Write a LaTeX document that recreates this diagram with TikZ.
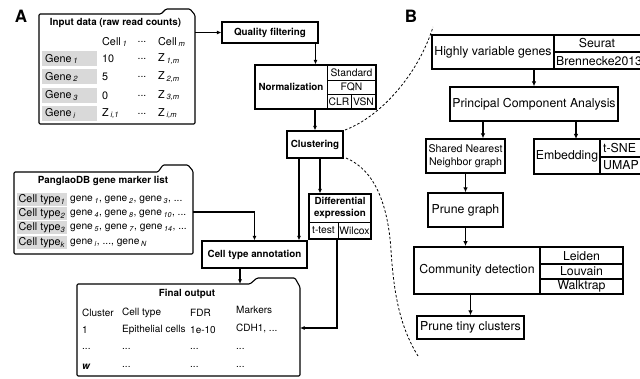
\documentclass[tikz,border=0pt]{standalone}
\usepackage{fontspec}
\setmainfont{TeX Gyre Heros}
\usetikzlibrary{arrows.meta}
\newcommand{\sbx}[1]{\,\textsubscript{\textit{#1}}}
\newcommand{\sbn}[1]{\textsubscript{\textit{#1}}}
\begin{document}
\begin{tikzpicture}[x=1pt,y=-1pt,
  box/.style={draw, line width=1.1pt, inner sep=0pt},
  boxA/.style={box, font=\fontsize{9.8}{11.5}\selectfont\bfseries, align=center},
  boxB/.style={draw, line width=1.3pt, inner sep=0pt, font=\fontsize{12.3}{14}\selectfont, align=center},
  fold/.style={draw, line width=1.1pt, rounded corners=1.2pt},
  thinline/.style={line width=0.8pt},
  arr/.style={-{Latex[length=4.5pt,width=4pt]}, line width=1.1pt},
  arrB/.style={-{Latex[length=5pt,width=4.5pt]}, line width=1.3pt},
  tA/.style={font=\fontsize{10.8}{12}\selectfont, inner sep=0pt, anchor=west},
  tG/.style={font=\fontsize{10.2}{12}\selectfont, inner sep=0pt, anchor=west},
  tAc/.style={font=\fontsize{10.3}{12}\selectfont, inner sep=0pt},
  tF/.style={font=\fontsize{10}{12}\selectfont, inner sep=0pt, anchor=west},
  tAb/.style={font=\fontsize{9.8}{11.5}\selectfont\bfseries, inner sep=0pt, align=center},
  tB/.style={font=\fontsize{12.3}{14}\selectfont, inner sep=0pt},
  grayc/.style={fill=black!15, draw=none},
  dashz/.style={line width=0.8pt, dash pattern=on 2.5pt off 2pt},
  lab/.style={font=\fontsize{17}{20}\selectfont\bfseries, inner sep=0pt}]
\useasboundingbox (0,0) rectangle (640,379);
\fill[white] (0,0) rectangle (640,379);
\clip (0,0) rectangle (640,379);

% ---------- panel labels
\node[lab] (labA) at (21,16) {A};
\node[lab] (labB) at (411,16) {B};

% ---------- Input data box
\draw[fold] (39,14) -- (161,14) -- (166,9) -- (190,9) -- (195,15) -- (195,124) -- (39,124) -- cycle;
\coordinate (inR) at (195,32.5);
\node[tAb] (inT) at (115.5,23) {Input data (raw read counts)};
\node[tA] (c1) at (102,42) {Cell\sbx{1}};
\node[tAc] (cd) at (142,42) {...};
\node[tA] (cm) at (158,42) {Cell\sbx{m}};
\foreach \y/\g/\v/\z [count=\i] in {59/1/10/1, 77/2/5/2, 95.5/3/0/3} {
  \fill[grayc] (42,\y-7.5) rectangle (97,\y+7.5);
  \node[tA] (g\i) at (45,\y) {Gene\sbx{\g}};
  \node[tA] (v\i) at (102,\y) {\v};
  \node[tAc] (d\i) at (142,\y) {...};
  \node[tA] (z\i) at (158,\y) {Z\sbx{\z,m}};
}
\fill[grayc] (42,113.5-7.5) rectangle (97,113.5+7.5);
\node[tA] (g4) at (45,113.5) {Gene\sbx{i}};
\node[tA] (v4) at (102,113.5) {Z\sbx{i,1}};
\node[tAc] (d4) at (142,113.5) {...};
\node[tA] (z4) at (158,113.5) {Z\sbx{i,m}};

% ---------- Quality filtering
\node[boxA, minimum width=96pt, minimum height=21pt] (qf) at (270,32.5) {Quality filtering};
\draw[arr] (inR) -- (qf.west);

% ---------- Normalization
\node[box, minimum width=121pt, minimum height=44pt] (norm) at (315.5,87) {};
\node[tAb] (normT) at (291,87) {Normalization};
\draw[thinline] (327,65) -- (327,109);
\draw[thinline] (327,80) -- (376,80);
\draw[thinline] (327,94) -- (376,94);
\draw[thinline] (351,94) -- (351,109);
\node[tAc] (std) at (351.5,73) {Standard};
\node[tAc] (fqn) at (351.5,87) {FQN};
\node[tAc] (clr) at (339,101.5) {CLR};
\node[tAc] (vsn) at (363.5,101.5) {VSN};
\draw[arr] (qf.south -| norm.north) -- (norm.north);

% ---------- Clustering
\node[boxA, minimum width=56pt, minimum height=27pt] (clust) at (315,144.5) {Clustering};
\draw[arr] (norm.south -| clust.north) -- (clust.north);

% ---------- Differential expression
\node[box, minimum width=62pt, minimum height=45pt] (de) at (340,216.5) {};
\node[tAb] (deT) at (340,208) {Differential\\expression};
\draw[thinline] (309,222) -- (371,222);
\draw[thinline] (338,222) -- (338,239);
\node[tAc] (tt) at (323.5,230.5) {t-test};
\node[tAc] (wx) at (354.5,230.5) {Wilcox};
\draw[arr] ([xshift=5pt]clust.south) -- ([xshift=5pt]clust.south |- de.north);

% ---------- PanglaoDB box
\draw[fold] (14,172) -- (158,172) -- (163,165) -- (188,165) -- (193,171) -- (193,254) -- (14,254) -- cycle;
\coordinate (pgR) at (193,212);
\node[tAb] (pgT) at (103,181) {PanglaoDB gene marker list};
\foreach \y/\c/\t [count=\i] in {200/1/{gene\sbx{1}, gene\sbx{2}, gene\sbx{3}, ...},
                                 214/2/{gene\sbx{4}, gene\sbx{8}, gene\sbx{10}, ...},
                                 228/3/{gene\sbx{5}, gene\sbx{7}, gene\sbx{14}, ...},
                                 243/k/{gene\sbx{i}, ..., gene\sbx{N}}} {
  \fill[grayc] (17,\y-6.5) rectangle (67,\y+6.5);
  \node[tA] (ct\i) at (18.5,\y) {Cell type\sbn{\c}};
  \node[tG] (gl\i) at (70,\y) {\t};
}

% ---------- Cell type annotation
\node[boxA, minimum width=105pt, minimum height=27pt] (cta) at (254.5,254.5) {Cell type annotation};
\draw[arr] (pgR) -| (cta.north);
\draw[arr] ([xshift=-16pt]clust.south) -- ([xshift=-16pt]clust.south |- cta.north);

% ---------- Final output
\draw[fold] (77,284) -- (250,284) -- (257,278) -- (295,278) -- (300,287) -- (300,376) -- (77,376) -- cycle;
\coordinate (finT) at (240,284);
\coordinate (finR) at (300,328);
\node[tAb] (foT) at (187,294) {Final output};
\node[tF] (h1) at (82,313) {Cluster};
\node[tF] (h2) at (122,313) {Cell type};
\node[tF] (h3) at (190,313) {FDR};
\node[tF] (h4) at (236,310) {Markers};
\node[tF] (r11) at (82,330) {1};
\node[tF] (r12) at (122,330) {Epithelial cells};
\node[tF] (r13) at (190,330) {1e-10};
\node[tF] (r14) at (236,328) {CDH1, ...};
\node[tF] (r21) at (82,349) {...};
\node[tF] (r22) at (122,349) {...};
\node[tF] (r23) at (190,349) {...};
\node[tF] (r24) at (236,349) {...};
\node[tF] (r31) at (82,367) {\textbf{\textit{w}}};
\node[tF] (r32) at (122,367) {...};
\node[tF] (r33) at (190,367) {...};
\node[tF] (r34) at (236,367) {...};
\draw[arr] ([xshift=-14.5pt]cta.south) -- (finT);
\draw[arr] ([xshift=-3pt]de.south) |- (finR);

% ---------- dashed zoom curves
\draw[dashz] (345,130) .. controls (380,117) and (418,75) .. (433,27);
\draw[dashz] (346,158) .. controls (375,170) and (388,205) .. (391,250)
            .. controls (394,300) and (402,330) .. (418,356);

% ---------- Panel B
% Highly variable genes
\draw[line width=1.3pt] (432,35) rectangle (650,69);
\draw[line width=1.3pt] (554,35) -- (554,69);
\draw[line width=1.1pt] (554,52) -- (650,52);
\coordinate (hvgS) at (534,69);
\node[tB] (hvgT) at (493,52) {Highly variable genes};
\node[tB] (seu) at (597,43.5) {Seurat};
\node[tB, anchor=west] (bre) at (556,61) {Brennecke2013};

\node[boxB, minimum width=168pt, minimum height=34pt] (pca) at (534,104) {Principal Component Analysis};
\draw[arrB] (hvgS) -- (pca.north);

\node[boxB, minimum width=79pt, minimum height=34pt, font=\fontsize{10.6}{13}\selectfont] (snn) at (465.5,156) {Shared Nearest\\Neighbor graph};
\draw[arrB] ([xshift=17.5pt]snn.north |- pca.south) -- ([xshift=17.5pt]snn.north);

% Embedding
\draw[line width=1.3pt] (534,139) rectangle (650,174);
\draw[line width=1.3pt] (600,139) -- (600,174);
\draw[line width=1.1pt] (600,157) -- (650,157);
\coordinate (embN) at (576,139);
\node[tB] (embT) at (567,156.5) {Embedding};
\node[tB, anchor=west] (tsne) at (603,148) {t-SNE};
\node[tB, anchor=west] (umap) at (603,165.5) {UMAP};
\draw[arrB] (pca.south -| embN) -- (embN);

\node[boxB, minimum width=75pt, minimum height=34pt] (pg) at (465.5,210) {Prune graph};
\draw[arrB] (snn.south -| pg.north) -- (pg.north);

% Community detection
\node[draw, line width=1.8pt, minimum width=209pt, minimum height=47pt, inner sep=0pt] (cd) at (518.5,270.5) {};
\draw[line width=1.8pt] (540,247) -- (540,294);
\draw[line width=1.6pt] (540,264) -- (623,264);
\draw[line width=1.6pt] (540,279) -- (623,279);
\node[tB] (cdT) at (477,270) {Community detection};
\node[tB] (lei) at (581.5,256) {Leiden};
\node[tB] (lou) at (581.5,271.5) {Louvain};
\node[tB] (wal) at (581.5,286.5) {Walktrap};
\draw[arrB] (pg.south) -- (pg.south |- cd.north);

\node[boxB, minimum width=107pt, minimum height=23pt] (ptc) at (470.5,327.5) {Prune tiny clusters};
\draw[arrB] (cd.south -| ptc.north) -- (ptc.north);
\end{tikzpicture}
\end{document}
